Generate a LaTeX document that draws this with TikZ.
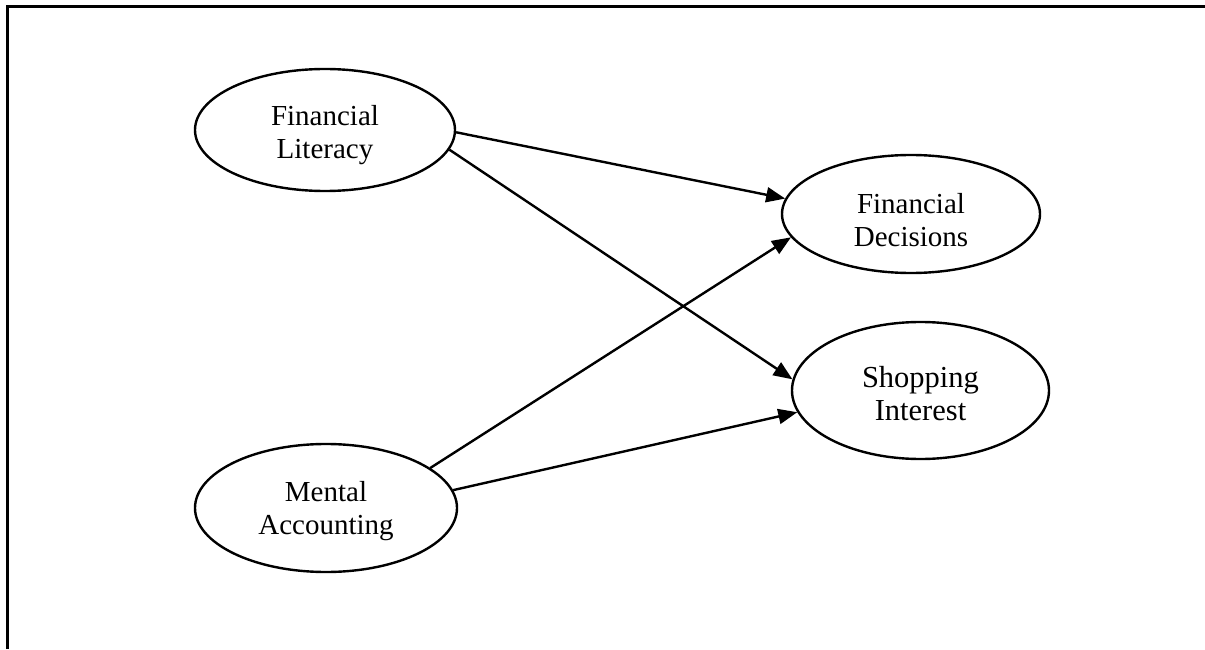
\documentclass[tikz,border=0pt]{standalone}
\usepackage{fontspec}
\setmainfont{Liberation Serif}
\usetikzlibrary{shapes.geometric,arrows.meta}
\begin{document}
\begin{tikzpicture}[x=1pt,y=1pt,
  oval/.style={ellipse,draw,line width=2.4pt,inner sep=0pt},
  txt/.style={align=center,inner sep=0pt,font=\fontsize{29}{33}\selectfont},
  link/.style={line width=2.4pt,-{Triangle[length=19pt,width=15pt]}},
  frame/.style={line width=2.4pt}]
\useasboundingbox (0,0) rectangle (1205,649);
\coordinate (ftl) at (7.5,642.3);
\coordinate (ftr) at (1205,642.3);
\coordinate (fbl) at (7.5,0);
\draw[frame] (fbl) -- (ftl) -- (ftr);
\node[oval,minimum width=260pt,minimum height=122pt] (fl) at (325,519) {};
\node[oval,minimum width=262pt,minimum height=128pt] (ma) at (326,141) {};
\node[oval,minimum width=258pt,minimum height=118pt] (fd) at (911,435) {};
\node[oval,minimum width=257pt,minimum height=137pt] (si) at (920.5,258.5) {};
\node[txt,yshift=-5pt] (flt) at (fl) {Financial\\Literacy};
\node[txt,yshift=-3pt] (mat) at (ma) {Mental\\Accounting};
\node[txt,yshift=-6pt] (fdt) at (fd) {Financial\\Decisions};
\node[txt,yshift=-3pt,font=\fontsize{30.5}{33}\selectfont] (sit) at (si) {Shopping\\Interest};
\draw[link] (fl.-1) -- (fd.173.5);
\draw[link] (fl.-9.4) -- (si.175.3);
\draw[link] (ma.21) -- (fd.191.8);
\draw[link] (ma.8) -- (si.190.9);
\end{tikzpicture}
\end{document}
